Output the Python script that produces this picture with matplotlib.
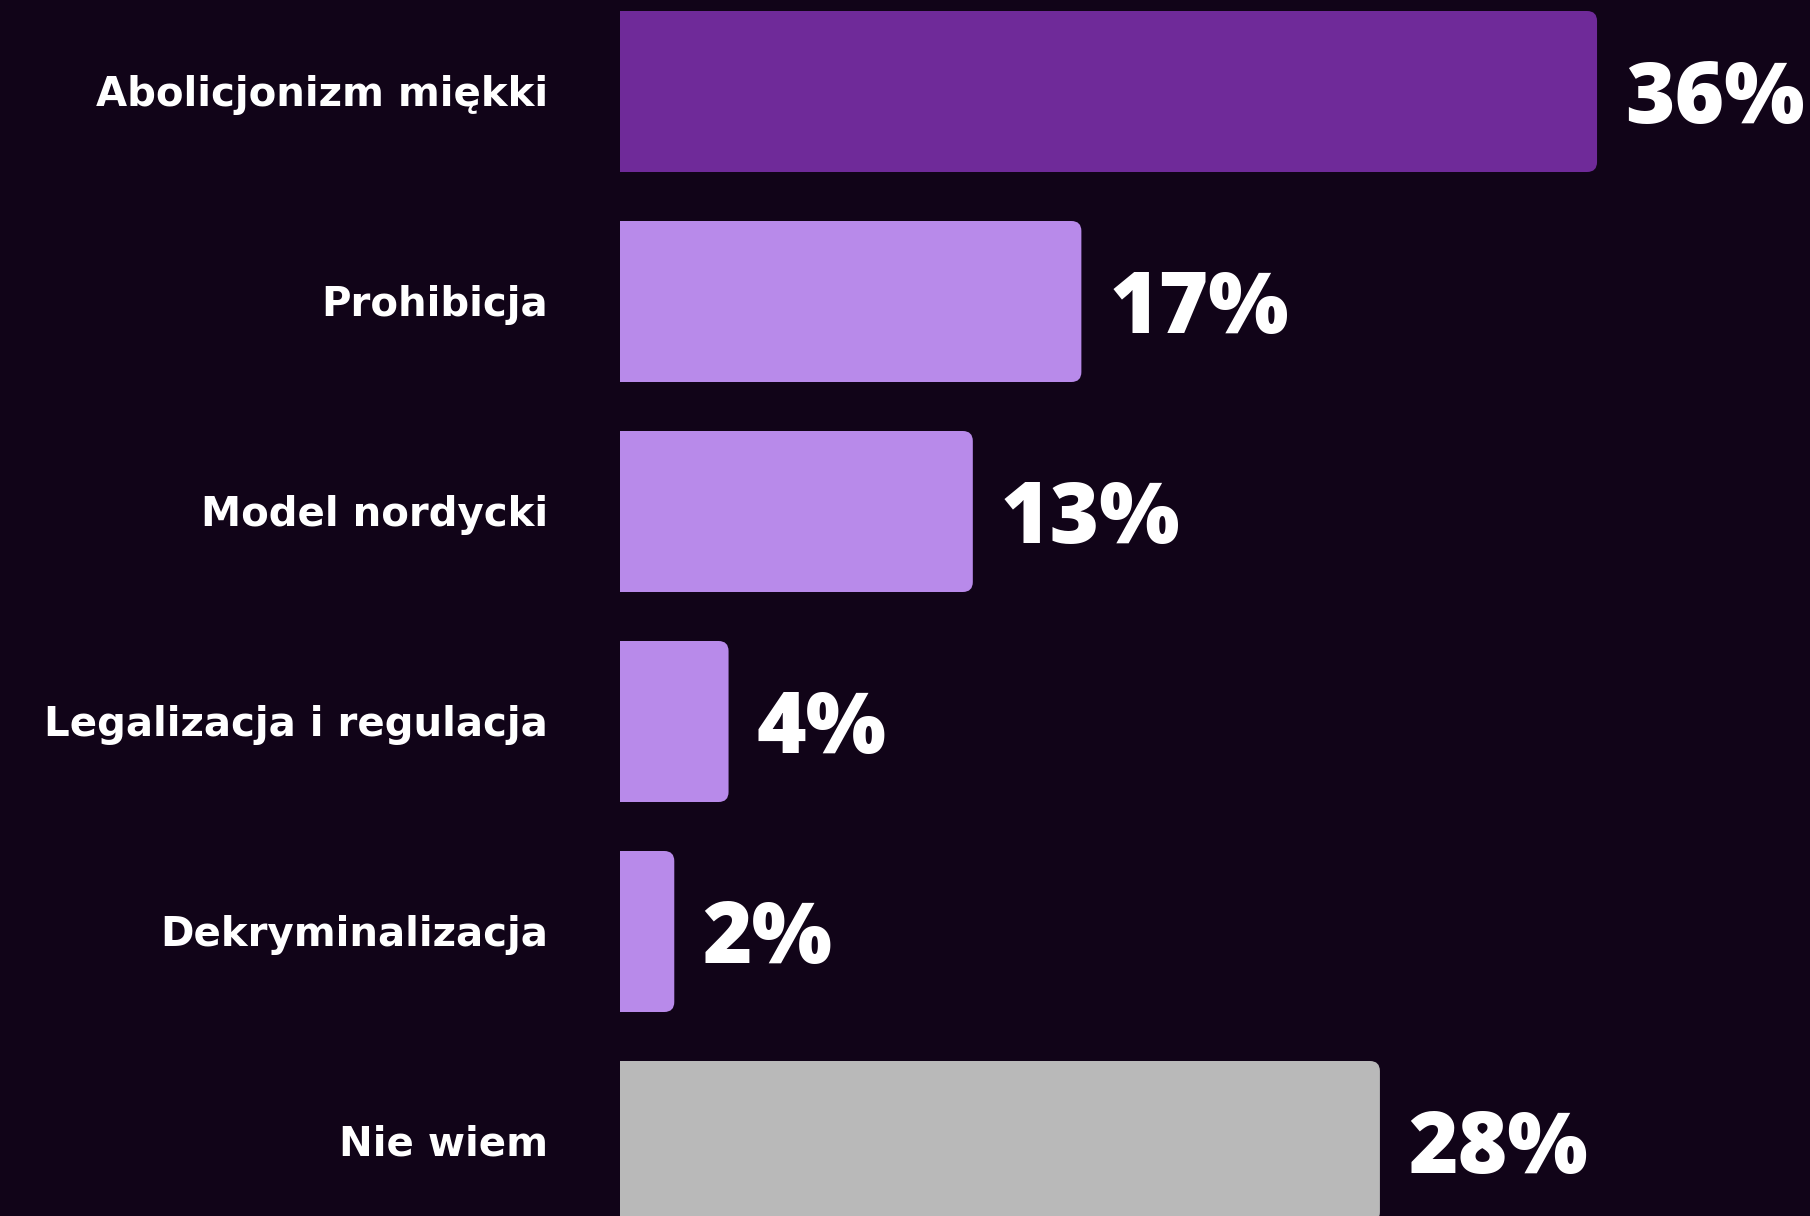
import matplotlib
matplotlib.use("Agg")
import matplotlib.pyplot as plt
from matplotlib.patches import FancyBboxPatch, Rectangle

# survey answers, top to bottom
categories = ["Abolicjonizm miękki", "Prohibicja", "Model nordycki",
              "Legalizacja i regulacja", "Dekryminalizacja", "Nie wiem"]
values = [36, 17, 13, 4, 2, 28]
bar_colors = ["#6f2a99", "#b88aea", "#b88aea", "#b88aea", "#b88aea", "#b9b9b9"]

BG = "#110418"
W, H = 1810, 1216
PX_PER_PCT = 27.14      # horizontal pixels per percent
PITCH = 210             # vertical pixels per category
X0 = 620                # bar origin in pixels
Y0 = 91.5               # first bar centre in pixels

fig = plt.figure(figsize=(W / 100, H / 100), dpi=100, facecolor=BG)
ax = fig.add_axes([0, 0, 1, 1])
ax.set_facecolor(BG)
ax.set_xlim(-X0 / PX_PER_PCT, (W - X0) / PX_PER_PCT)
ax.set_ylim((H - Y0) / PITCH, -Y0 / PITCH)
ax.axis("off")

bar_h = 161 / PITCH
radius = 10 / PX_PER_PCT
aspect = PX_PER_PCT / PITCH

# clip so only the right-hand corners stay rounded
clip = Rectangle((0, -5), 200, 20, transform=ax.transData)

for i, (cat, val, col) in enumerate(zip(categories, values, bar_colors)):
    patch = FancyBboxPatch((-2, i - bar_h / 2), val + 2, bar_h,
                           boxstyle=f"round,pad=0,rounding_size={radius}",
                           mutation_aspect=aspect,
                           facecolor=col, edgecolor="none")
    ax.add_patch(patch)
    patch.set_clip_path(clip)

    ax.text(-72 / PX_PER_PCT, i + 14 / PITCH, cat, ha="right", va="baseline",
            color="white", fontsize=29, family=["DejaVu Sans"],
            fontweight="bold")
    ax.text(val + 28 / PX_PER_PCT, i + 31 / PITCH, f"{val}%", ha="left",
            va="baseline", color="white", fontsize=61,
            family=["Open Sans", "DejaVu Sans"], fontweight="heavy")

fig.savefig("out.png", dpi=100, facecolor=BG)
